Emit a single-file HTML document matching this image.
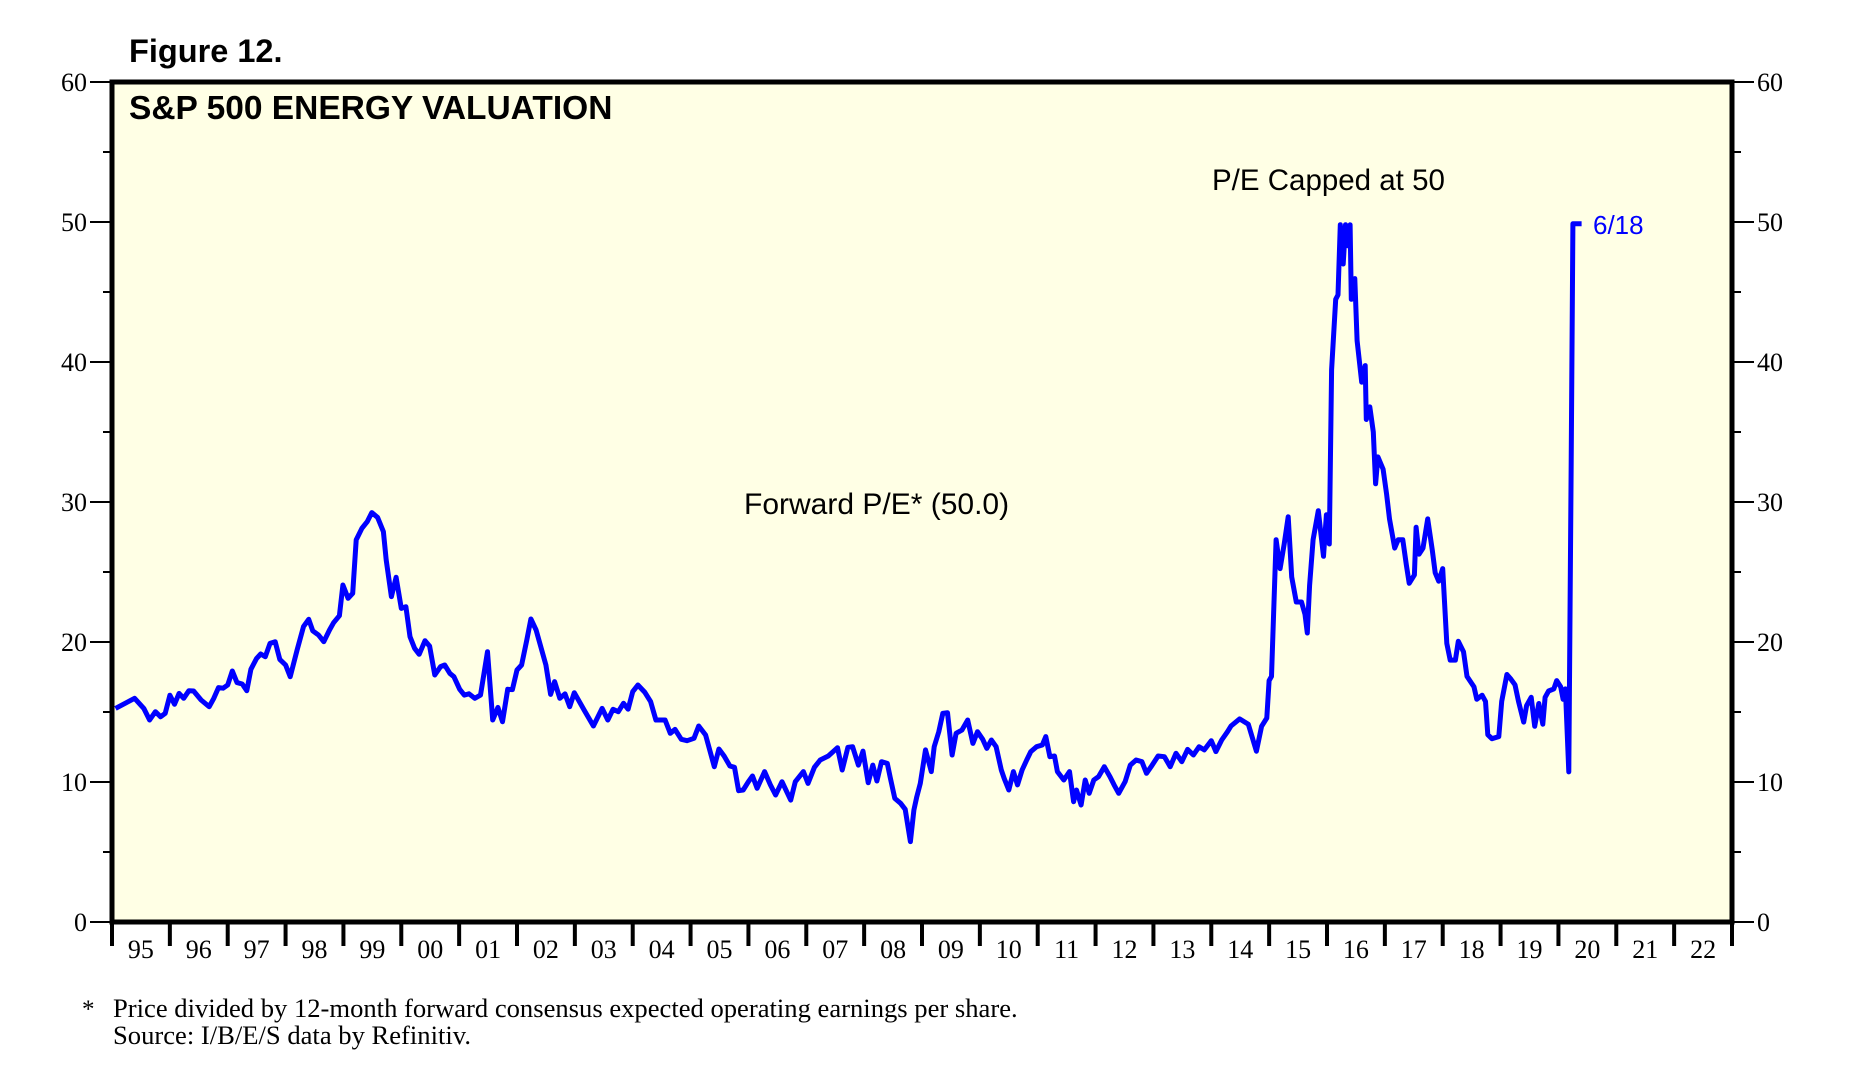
<!DOCTYPE html>
<html><head><meta charset="utf-8"><style>
html,body{margin:0;padding:0;background:#fff;width:1868px;height:1086px;overflow:hidden}
svg{display:block}
.serif{font-family:"Liberation Serif",serif}
.sans{font-family:"Liberation Sans",sans-serif}
</style></head><body>
<svg id="chart" width="1868" height="1086" viewBox="0 0 1868 1086">
<text class="sans" x="129" y="62" font-size="32.5" font-weight="bold">Figure 12.</text>
<rect x="112" y="82" width="1620" height="840" fill="#FFFFE5"/>
<g id="axes"></g>
<g id="series"></g>
<rect x="112" y="82" width="1620" height="840" fill="none" stroke="#000" stroke-width="5"/>
<text class="sans" x="129" y="119" font-size="33.5" font-weight="bold">S&amp;P 500 ENERGY VALUATION</text>
<text class="sans" x="1212" y="190" font-size="29.5">P/E Capped at 50</text>
<text class="sans" x="744" y="514" font-size="30">Forward P/E* (50.0)</text>
<text class="sans" x="1593" y="234" font-size="26" fill="#0000FF">6/18</text>
<text class="serif" x="82" y="1017" font-size="25">*</text>
<text class="serif" x="113" y="1017" font-size="26.6">Price divided by 12-month forward consensus expected operating earnings per share.</text>
<text class="serif" x="113" y="1044" font-size="26.6">Source: I/B/E/S data by Refinitiv.</text>
</svg>
<script>
const years = [1995.06,1995.39,1995.55,1995.65,1995.75,1995.84,1995.92,1996.0,1996.08,1996.16,1996.24,1996.33,1996.41,1996.54,1996.68,1996.76,1996.84,1996.92,1997.0,1997.08,1997.16,1997.25,1997.33,1997.4,1997.5,1997.57,1997.65,1997.73,1997.82,1997.9,1998.0,1998.08,1998.2,1998.31,1998.4,1998.47,1998.57,1998.66,1998.76,1998.83,1998.93,1998.99,1999.08,1999.16,1999.22,1999.32,1999.41,1999.49,1999.59,1999.69,1999.74,1999.83,1999.91,2000.0,2000.08,2000.15,2000.23,2000.31,2000.41,2000.49,2000.58,2000.68,2000.75,2000.84,2000.91,2001.01,2001.09,2001.17,2001.27,2001.37,2001.49,2001.58,2001.67,2001.75,2001.84,2001.92,2002.0,2002.08,2002.17,2002.24,2002.33,2002.5,2002.58,2002.65,2002.74,2002.83,2002.91,2002.99,2003.16,2003.32,2003.47,2003.57,2003.66,2003.75,2003.84,2003.92,2004.0,2004.09,2004.21,2004.31,2004.4,2004.56,2004.65,2004.73,2004.84,2004.94,2005.06,2005.14,2005.26,2005.41,2005.49,2005.58,2005.68,2005.76,2005.83,2005.91,2006.0,2006.07,2006.15,2006.28,2006.38,2006.47,2006.58,2006.73,2006.81,2006.95,2007.03,2007.14,2007.24,2007.38,2007.54,2007.62,2007.72,2007.8,2007.9,2007.98,2008.07,2008.15,2008.22,2008.3,2008.4,2008.45,2008.53,2008.63,2008.71,2008.8,2008.86,2008.91,2008.97,2009.06,2009.16,2009.21,2009.29,2009.36,2009.44,2009.52,2009.59,2009.69,2009.79,2009.88,2009.96,2010.05,2010.12,2010.2,2010.28,2010.37,2010.42,2010.5,2010.58,2010.65,2010.73,2010.81,2010.88,2010.98,2011.08,2011.14,2011.21,2011.29,2011.34,2011.45,2011.55,2011.62,2011.67,2011.75,2011.82,2011.89,2011.97,2012.05,2012.15,2012.25,2012.32,2012.4,2012.51,2012.6,2012.7,2012.8,2012.88,2012.96,2013.08,2013.19,2013.29,2013.39,2013.49,2013.59,2013.69,2013.79,2013.88,2014.0,2014.08,2014.18,2014.28,2014.34,2014.49,2014.64,2014.78,2014.87,2014.96,2015.0,2015.04,2015.12,2015.19,2015.26,2015.33,2015.39,2015.47,2015.56,2015.62,2015.66,2015.7,2015.76,2015.85,2015.94,2015.99,2016.04,2016.08,2016.15,2016.19,2016.23,2016.28,2016.32,2016.36,2016.4,2016.42,2016.48,2016.52,2016.6,2016.66,2016.68,2016.74,2016.8,2016.84,2016.88,2016.97,2017.03,2017.08,2017.17,2017.23,2017.31,2017.37,2017.42,2017.51,2017.54,2017.59,2017.66,2017.74,2017.82,2017.87,2017.93,2018.0,2018.07,2018.13,2018.22,2018.27,2018.36,2018.42,2018.54,2018.59,2018.68,2018.74,2018.78,2018.85,2018.97,2019.02,2019.11,2019.17,2019.25,2019.31,2019.4,2019.45,2019.53,2019.59,2019.66,2019.73,2019.77,2019.83,2019.92,2019.97,2020.04,2020.08,2020.12,2020.18,2020.22,2020.25,2020.4];
const peValues = [15.26,15.98,15.26,14.43,15.02,14.66,14.9,16.2,15.55,16.33,15.98,16.52,16.5,15.86,15.38,15.98,16.74,16.7,16.93,17.93,17.1,17.0,16.52,18.05,18.83,19.14,18.95,19.9,20.02,18.76,18.36,17.52,19.43,21.1,21.62,20.79,20.5,20.02,20.86,21.38,21.88,24.07,23.12,23.48,27.29,28.12,28.59,29.24,28.9,27.88,25.86,23.24,24.62,22.4,22.52,20.38,19.55,19.12,20.09,19.71,17.64,18.24,18.36,17.76,17.52,16.62,16.21,16.3,15.98,16.21,19.31,14.43,15.33,14.31,16.62,16.6,18.0,18.36,20.14,21.64,20.86,18.36,16.26,17.17,15.98,16.29,15.38,16.38,15.14,14.0,15.26,14.43,15.19,15.02,15.62,15.2,16.45,16.93,16.4,15.74,14.43,14.43,13.48,13.76,13.05,12.95,13.12,14.0,13.36,11.09,12.36,11.86,11.14,11.05,9.38,9.43,10.02,10.43,9.55,10.74,9.79,9.07,10.02,8.71,10.02,10.74,9.9,11.05,11.57,11.86,12.45,10.86,12.48,12.52,11.21,12.21,9.95,11.21,10.07,11.45,11.33,10.33,8.83,8.48,8.05,5.74,8.0,8.95,9.9,12.29,10.74,12.52,13.59,14.9,14.95,11.93,13.48,13.71,14.43,12.76,13.59,13.05,12.4,13.0,12.52,10.86,10.26,9.43,10.74,9.79,10.86,11.57,12.17,12.52,12.64,13.24,11.81,11.86,10.74,10.14,10.74,8.59,9.43,8.36,10.14,9.19,10.14,10.38,11.09,10.38,9.79,9.19,10.02,11.21,11.57,11.45,10.62,11.09,11.86,11.81,11.09,12.05,11.45,12.33,11.93,12.52,12.29,12.95,12.17,13.0,13.59,14.0,14.51,14.13,12.2,13.98,14.57,17.24,17.54,27.31,25.24,27.0,28.94,24.64,22.86,22.86,21.98,20.64,24.05,27.31,29.38,26.12,29.09,27.0,39.45,44.48,44.79,49.81,47.0,49.8,48.3,49.8,44.48,45.96,41.52,38.56,39.74,35.89,36.79,35.0,31.3,33.22,32.34,30.56,28.79,26.71,27.31,27.3,25.53,24.19,24.79,28.19,26.27,26.71,28.79,26.56,24.94,24.34,25.24,19.9,18.71,18.71,20.05,19.31,17.54,16.79,15.91,16.2,15.76,13.38,13.09,13.24,15.76,17.68,17.39,16.94,15.76,14.28,15.46,16.05,13.98,15.61,14.13,16.05,16.5,16.65,17.24,16.79,15.91,16.65,10.72,32.93,49.87,49.87];
const yTicks = [0,10,20,30,40,50,60];
const yearLabels = ["95","96","97","98","99","00","01","02","03","04","05","06","07","08","09","10","11","12","13","14","15","16","17","18","19","20","21","22"];

const NS="http://www.w3.org/2000/svg";
const X0=112,X1=1732,Y0=922,Y1=82,startYear=1995,endYear=2023,yMax=60;
const xScale=y=>X0+(y-startYear)/(endYear-startYear)*(X1-X0);
const yScale=v=>Y0-v/yMax*(Y0-Y1);
function mk(tag,attrs,parent){const e=document.createElementNS(NS,tag);for(const k in attrs)e.setAttribute(k,attrs[k]);parent.appendChild(e);return e;}
const axes=document.getElementById('axes');
for(let v=0;v<=yMax;v+=5){
  const y=yScale(v),major=v%10===0;
  const l=mk('line',{x1:X0-(major?22:9),x2:X0,y1:y,y2:y,stroke:'#000','stroke-width':2},axes);
  
  
  const r=mk('line',{x1:X1,x2:X1+(major?22:9),y1:y,y2:y,stroke:'#000','stroke-width':2},axes);
  
  
}
yTicks.forEach(v=>{
  const y=yScale(v);
  const t=mk('text',{x:X0-25,y:y+9,'text-anchor':'end','font-size':26,class:'serif'},axes);
  t.textContent=v;
  
  
  const t2=mk('text',{x:X1+25,y:y+9,'text-anchor':'start','font-size':26,class:'serif'},axes);
  t2.textContent=v;
  
  
});
for(let i=0;i<=yearLabels.length;i++){
  const x=xScale(startYear+i);
  const l=mk('line',{x1:x,x2:x,y1:Y0,y2:Y0+24,stroke:'#000','stroke-width':4},axes);
  
  
}
yearLabels.forEach((lab,i)=>{
  const t=mk('text',{x:xScale(startYear+i+0.5),y:958,'text-anchor':'middle','font-size':26,class:'serif'},axes);
  t.textContent=lab;
  
  
});
const d=years.map((y,i)=>(i?'L':'M')+xScale(y).toFixed(1)+' '+yScale(peValues[i]).toFixed(1)).join(' ');
const p=mk('path',{d:d,fill:'none',stroke:'#0000FF','stroke-width':5,'stroke-linejoin':'round'},document.getElementById('series'));


</script>
</body></html>
